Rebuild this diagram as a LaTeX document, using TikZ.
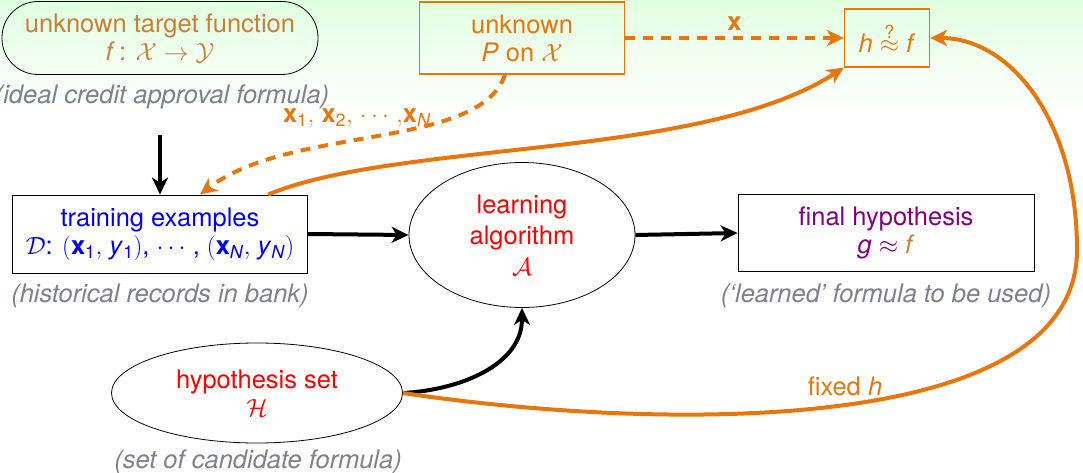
\documentclass[tikz,border=0pt]{standalone}
\usepackage{fontspec}
\setmainfont{TeX Gyre Heros}
\usetikzlibrary{arrows.meta,shapes.geometric}
\definecolor{org}{RGB}{232,118,10}
\definecolor{brn}{RGB}{200,128,56}
\definecolor{gry}{RGB}{128,128,140}
\definecolor{prp}{RGB}{128,0,128}
\begin{document}
\begin{tikzpicture}[x=1pt,y=-1pt,
  font=\fontsize{25.5}{31}\selectfont,
  box/.style={draw=black, line width=0.8pt, fill=white, align=center, inner sep=2pt},
  obox/.style={draw=org, line width=1.3pt, align=center, inner sep=2pt, text=org},
  ell/.style={draw=black, line width=0.8pt, ellipse, fill=white, align=center, inner sep=0pt},
  captext/.style={text=gry, font=\fontsize{25.5}{31}\selectfont\itshape},
  barrow/.style={draw=black, line width=4pt, -{Stealth[length=17pt,width=16pt,inset=5pt]}},
  oarrow/.style={draw=org, line width=4pt, -{Stealth[length=17pt,width=16pt,inset=5pt]}},
  odash/.style={oarrow, dash pattern=on 10pt off 8pt},
  olabel/.style={text=org}
]
\useasboundingbox (0,0) rectangle (1083,473);
\shade[top color=green!12, bottom color=white] (0,0) rectangle (1083,112);

\node[draw=black, line width=0.8pt, rounded corners=36pt, minimum width=316pt, minimum height=73pt, align=center, text=brn] (tgt) at (160,38) {unknown target function\\[-3pt] \textit{f}\,: $\mathcal{X}\to\mathcal{Y}$};
\node[captext] (tgtcap) at (162,97) {(ideal credit approval formula)};

\node[obox, minimum width=205pt, minimum height=72pt] (P) at (522,38) {unknown\\[-3pt] \textit{P} on $\mathcal{X}$};
\node[obox, minimum width=85pt, minimum height=58pt] (hf) at (887,38) {\textit{h} $\stackrel{\hbox{\fontsize{18}{18}\selectfont ?}}{\approx}$ \textit{f}};

\node[box, minimum width=295pt, minimum height=78pt, text=blue] (train) at (160,234) {training examples\\[-3pt] $\mathcal{D}$: $($\textbf{x}\textsubscript{1}$,$ \textit{y}\textsubscript{1}$)$, $\cdots$ , $($\textbf{x}\textsubscript{\textit{N}}$,$ \textit{y}\textsubscript{\textit{N}}$)$};
\node[captext] (traincap) at (160,296) {(historical records in bank)};

\node[ell, minimum width=226pt, minimum height=145pt, text=red] (alg) at (522,235) {learning\\ algorithm\\ $\mathcal{A}$};

\node[box, minimum width=296pt, minimum height=77pt, text=prp] (final) at (886,233) {final hypothesis\\[-3pt] \textit{g} $\approx$ \textcolor{brn}{\textit{f}}};
\node[captext] (finalcap) at (886,296) {(`learned' formula to be used)};

\node[ell, minimum width=291pt, minimum height=100pt, text=red] (hyp) at (257,393) {hypothesis set\\[-3pt] $\mathcal{H}$};
\node[captext] (hypcap) at (258,462) {(set of candidate formula)};

% black arrows
\draw[barrow, shorten <=22pt] (tgtcap.south -| train.north) -- (train.north);
\draw[barrow] (train.east) -- (alg.west);
\draw[barrow] (alg.east) -- (final.west);
\draw[barrow] (hyp.east) to[out=3, in=-90] (alg.south);

% orange arrows
\draw[odash] (P.east) -- (hf.west) node[midway, above=2pt, olabel] (xlab) {\textbf{x}};
\draw[odash] ([xshift=-17pt]P.south) .. controls (480,150) and (290,125) .. ([xshift=40pt]train.north);
\node[olabel] (xs) at (357,118) {\textbf{x}\textsubscript{1}$,$ \textbf{x}\textsubscript{2}$,$ $\cdots$ $,$\textbf{x}\textsubscript{\textit{N}}};
\draw[oarrow] ([xshift=108pt]train.north) .. controls (400,140) and (700,160) .. (hf.south west);
\coordinate (rt) at (1077,250);
\draw[oarrow] (hyp.east) .. controls (650,430) and (1077,440) .. (rt) .. controls (1077,120) and (1010,38) .. (hf.east);
\node[olabel] (fixh) at (845,386) {fixed \textit{h}};
\end{tikzpicture}
\end{document}
